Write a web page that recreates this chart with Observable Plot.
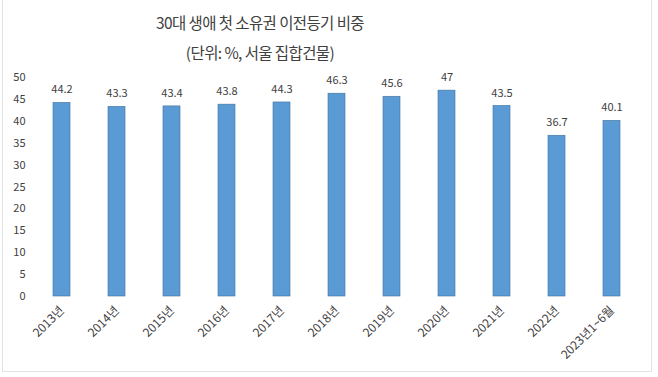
<!DOCTYPE html>
<html><head><meta charset="utf-8">
<script src="https://cdn.jsdelivr.net/npm/d3@7"></script>
<script src="https://cdn.jsdelivr.net/npm/@observablehq/plot@0.6"></script>
<style>
body{margin:0;background:#fff;width:658px;height:377px;overflow:hidden;position:relative;font-family:"Noto Sans CJK KR","Noto Sans",sans-serif;}
#t{height:68px;width:520px;text-align:center;color:#404040;}
#t .a{font-size:15.5px;padding-top:12px;line-height:20px;letter-spacing:-0.6px;}
#t .b{font-size:15.5px;padding-top:10px;line-height:20px;letter-spacing:-0.6px;}
#frame{position:absolute;left:2px;top:-2px;width:648px;height:373px;border-left:1px solid #e3e3e3;border-right:1px solid #e3e3e3;border-bottom:1px solid #e3e3e3;pointer-events:none;}
</style></head>
<body>
<div id="frame"></div>
<div id="t"><div class="a">30대 생애 첫 소유권 이전등기 비중</div><div class="b">(단위: %, 서울 집합건물)</div></div>
<div id="c"></div>
<script>
const years = ["2013년","2014년","2015년","2016년","2017년","2018년","2019년","2020년","2021년","2022년","2023년1~6월"];
const shares = [44.2,43.3,43.4,43.8,44.3,46.3,45.6,47,43.5,36.7,40.1];
const yTicks = [0,5,10,15,20,25,30,35,40,45,50];
const data = years.map((y,i)=>({year:y, value:shares[i]}));
const chart = Plot.plot({
  width:658, height:309,
  marginTop:9, marginBottom:81, marginLeft:34, marginRight:19,
  style:{fontFamily:'"Noto Sans CJK KR","Noto Sans",sans-serif', fontSize:"11px", color:"#404040", background:"transparent"},
  x:{domain:years, paddingInner:0.69, paddingOuter:0.345, label:null},
  y:{domain:[0,50], label:null},
  marks:[
    Plot.gridY(yTicks,{stroke:"#d9d9d9", strokeOpacity:1, x1:33, x2:640}),
    Plot.axisY(yTicks,{tickSize:0, tickPadding:9, label:null, fontSize:11}),
    Plot.axisX({tickSize:0, tickPadding:12, tickRotate:-45, label:null, fontSize:12}),
    Plot.barY(data,{x:"year", y:"value", fill:"#5B9BD5", stroke:"#41719C", strokeWidth:0.6}),
    Plot.text(data,{x:"year", y:"value", text:d=>String(d.value), dy:-13, fill:"#404040", fontSize:11})
  ]
});
document.getElementById("c").appendChild(chart);
</script>
</body></html>
